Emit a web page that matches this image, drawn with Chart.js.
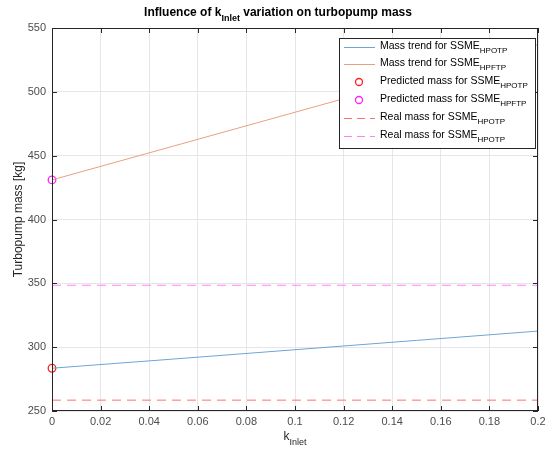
<!DOCTYPE html>
<html>
<head>
<meta charset="utf-8">
<script src="https://cdn.jsdelivr.net/npm/chart.js@4"></script>
<style>
  body { margin: 0; background: #fff; }
  #wrap { width: 554px; height: 457px; }
</style>
</head>
<body>
<div id="wrap"><canvas id="mass-chart"></canvas></div>
<script>
const kInlet = [0, 0.05, 0.1, 0.15, 0.2];
const hpotpTrend = [283.5, 290.7, 298, 305.3, 312.6];
const hpftpTrend = [431, 457.5, 484, 510.5, 537];
const predictedHpotp = 283.5;
const predictedHpftp = 431;
const realHpotp = 258.5;
const realHpftp = 348.5;
const xRange = [0, 0.2];

const legendItems = [
  { kind: "line", color: "#6aa6d8", text: "Mass trend for SSME", sub: "HPOTP" },
  { kind: "line", color: "#e9a07e", text: "Mass trend for SSME", sub: "HPFTP" },
  { kind: "point", color: "#ff2020", text: "Predicted mass for SSME", sub: "HPOTP" },
  { kind: "point", color: "#ff20ff", text: "Predicted mass for SSME", sub: "HPFTP" },
  { kind: "dash", color: "#ff7070", text: "Real mass for SSME", sub: "HPOTP" },
  { kind: "dash", color: "#ff80ff", text: "Real mass for SSME", sub: "HPOTP" },
];

const font = "Helvetica, 'Liberation Sans', Arial, sans-serif";

// draws text followed by a lowered, smaller subscript; returns end x
function subText(ctx, x, y, text, sub, size, bold) {
  const w = bold ? "bold " : "";
  ctx.textAlign = "left";
  ctx.textBaseline = "middle";
  ctx.font = w + size + "px " + font;
  ctx.fillText(text, x, y);
  const w1 = ctx.measureText(text).width;
  ctx.font = w + Math.round(size * 0.72) + "px " + font;
  ctx.fillText(sub, x + w1, y + size * 0.42);
  return x + w1 + ctx.measureText(sub).width;
}

function subWidth(ctx, text, sub, size, bold) {
  const w = bold ? "bold " : "";
  ctx.font = w + size + "px " + font;
  const w1 = ctx.measureText(text).width;
  ctx.font = w + Math.round(size * 0.72) + "px " + font;
  return w1 + ctx.measureText(sub).width;
}

const decorations = {
  id: "decorations",
  afterDraw(chart) {
    const ctx = chart.ctx;
    const a = chart.chartArea;
    const xs = chart.scales.x, ys = chart.scales.y;
    ctx.save();
    // box
    ctx.strokeStyle = "#262626";
    ctx.lineWidth = 1;
    ctx.strokeRect(a.left + 0.5, a.top + 0.5, a.right - a.left - 1, a.bottom - a.top - 1);
    // inward ticks
    ctx.beginPath();
    xs.ticks.forEach(t => {
      const px = Math.round(xs.getPixelForValue(t.value)) + 0.5;
      ctx.moveTo(px, a.bottom); ctx.lineTo(px, a.bottom - 5);
      ctx.moveTo(px, a.top); ctx.lineTo(px, a.top + 5);
    });
    ys.ticks.forEach(t => {
      const py = Math.round(ys.getPixelForValue(t.value)) + 0.5;
      ctx.moveTo(a.left, py); ctx.lineTo(a.left + 5, py);
      ctx.moveTo(a.right, py); ctx.lineTo(a.right - 5, py);
    });
    ctx.stroke();
    // title
    ctx.fillStyle = "#000";
    const cx = (a.left + a.right) / 2;
    const rest = " variation on turbopump mass";
    const tSize = 12;
    const w1 = subWidth(ctx, "Influence of k", "Inlet", tSize, true);
    ctx.font = "bold " + tSize + "px " + font;
    const total = w1 + ctx.measureText(rest).width;
    const end = subText(ctx, 278 - total / 2, 13, "Influence of k", "Inlet", tSize, true);
    ctx.font = "bold " + tSize + "px " + font;
    ctx.fillText(rest, end, 13);
    // x axis title
    ctx.fillStyle = "#262626";
    const kw = subWidth(ctx, "k", "Inlet", 12, false);
    subText(ctx, cx - kw / 2, 437, "k", "Inlet", 12, false);
    // legend
    const lx = 339, ly = 38, lw = 196, lh = 110;
    ctx.fillStyle = "#fff";
    ctx.fillRect(lx, ly, lw, lh);
    ctx.strokeStyle = "#262626";
    ctx.strokeRect(lx + 0.5, ly + 0.5, lw, lh);
    const rows = [47, 64, 82, 100, 118, 136];
    legendItems.forEach((it, i) => {
      const y = rows[i];
      ctx.strokeStyle = it.color;
      ctx.lineWidth = 1;
      ctx.setLineDash(it.kind === "dash" ? [8, 5] : []);
      if (it.kind === "point") {
        ctx.lineWidth = 1.3;
        ctx.beginPath();
        ctx.arc(359, y, 3.5, 0, Math.PI * 2);
        ctx.stroke();
      } else {
        ctx.beginPath();
        ctx.moveTo(344, y + 0.5); ctx.lineTo(375, y + 0.5);
        ctx.stroke();
      }
      ctx.setLineDash([]);
      ctx.fillStyle = "#000";
      subText(ctx, 380, y - 1, it.text, it.sub, 10.5, false);
    });
    ctx.restore();
  },
};

const toXY = (xsArr, ysArr) => xsArr.map((x, i) => ({ x: x, y: ysArr[i] }));

new Chart(document.getElementById("mass-chart"), {
  type: "scatter",
  data: {
    datasets: [
      {
        data: toXY(kInlet, hpotpTrend),
        showLine: true, borderColor: "#6aa6d8", borderWidth: 1, pointRadius: 0,
      },
      {
        data: toXY(kInlet, hpftpTrend),
        showLine: true, borderColor: "#e9a07e", borderWidth: 1, pointRadius: 0,
      },
      {
        data: toXY(xRange, [realHpotp, realHpotp]),
        showLine: true, borderColor: "#ff7070", borderWidth: 1, borderDash: [9, 6], pointRadius: 0,
      },
      {
        data: toXY(xRange, [realHpftp, realHpftp]),
        showLine: true, borderColor: "#ff80ff", borderWidth: 1, borderDash: [9, 6], pointRadius: 0,
      },
      {
        data: [{ x: 0, y: predictedHpotp }],
        pointRadius: 3.8, pointBorderColor: "#ff2020", pointBackgroundColor: "rgba(0,0,0,0)", pointBorderWidth: 1.3,
      },
      {
        data: [{ x: 0, y: predictedHpftp }],
        pointRadius: 3.8, pointBorderColor: "#ff20ff", pointBackgroundColor: "rgba(0,0,0,0)", pointBorderWidth: 1.3,
      },
    ],
  },
  options: {
    responsive: true,
    maintainAspectRatio: false,
    animation: false,
    clip: false,
    layout: { padding: { top: 28, right: 16, left: 11, bottom: 0 } },
    plugins: { legend: { display: false }, tooltip: { enabled: false } },
    scales: {
      x: {
        type: "linear", min: 0, max: 0.2,
        afterFit: s => { s.height = 46; },
        ticks: {
          stepSize: 0.02, color: "#4d4d4d", padding: 4,
          font: { family: font, size: 11 },
          callback: v => String(+v.toFixed(2)),
        },
        grid: { color: "#e6e6e6", drawTicks: false },
        border: { display: false },
      },
      y: {
        min: 250, max: 550,
        afterFit: s => { s.width = 41; },
        ticks: {
          stepSize: 50, color: "#4d4d4d", padding: 6,
          font: { family: font, size: 11 },
        },
        title: {
          display: true, text: "Turbopump mass [kg]", color: "#262626",
          font: { family: font, size: 12 }, padding: { top: 0, bottom: 2 },
        },
        grid: { color: "#e6e6e6", drawTicks: false },
        border: { display: false },
      },
    },
  },
  plugins: [decorations],
});
</script>
</body>
</html>
